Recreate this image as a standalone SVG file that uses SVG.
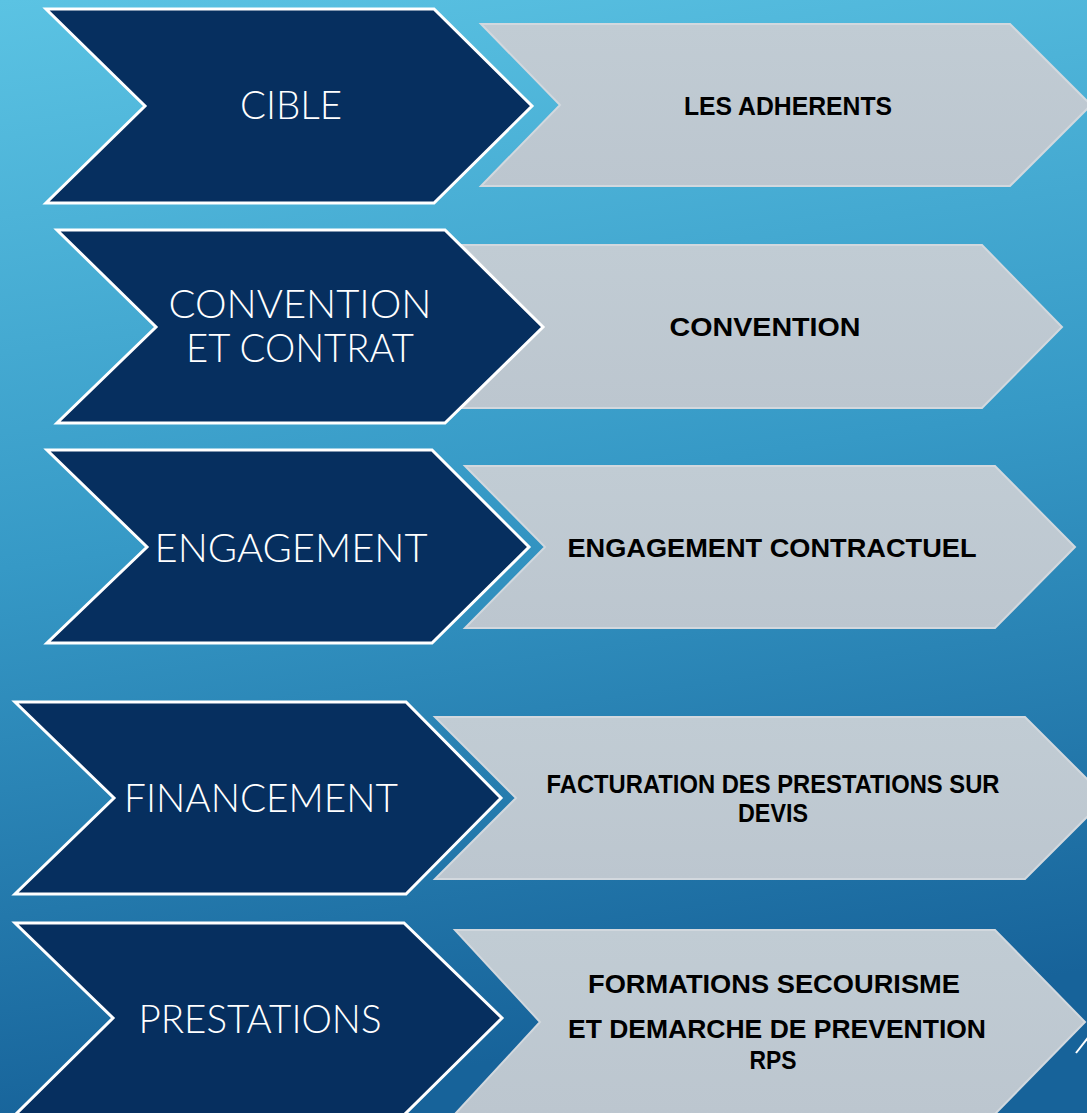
<svg xmlns="http://www.w3.org/2000/svg" width="1087" height="1113" viewBox="0 0 1087 1113">
  <defs>
    <linearGradient id="bg" x1="0" y1="0" x2="0.15" y2="1">
      <stop offset="0" stop-color="#5bc3e3"/>
      <stop offset="0.5" stop-color="#3699c6"/>
      <stop offset="1" stop-color="#17639a"/>
    </linearGradient>
    <linearGradient id="grey" x1="0" y1="0" x2="0" y2="1">
      <stop offset="0" stop-color="#c1ccd4"/>
      <stop offset="1" stop-color="#bcc6cf"/>
    </linearGradient>
  </defs>
  <style>
    .navy { fill: #062f5f; stroke: #ffffff; stroke-width: 3; stroke-linejoin: miter; }
    .light { fill: url(#grey); stroke: #d2d8de; stroke-width: 2; }
    .lbl { font-family: Lato, "Liberation Sans", sans-serif; font-weight: 300; font-size: 40px; fill: #ffffff; text-anchor: middle; }
    .desc { font-family: "Liberation Sans", Arial, sans-serif; font-weight: bold; font-size: 26px; fill: #000000; text-anchor: middle; }
  </style>
  <rect x="0" y="0" width="1087" height="1113" fill="url(#bg)"/>

  <g id="connectors"></g>

  <g id="row1">
    <polygon class="light" points="481,24 1010,24 1091,105 1010,186 481,186 560,105"/>
    <polygon class="navy" points="46,9 434,9 532,106 434,203 46,203 145,106"/>
    <text class="lbl" x="291" y="119" textLength="102" lengthAdjust="spacingAndGlyphs">CIBLE</text>
    <text class="desc" x="788" y="115" textLength="208" lengthAdjust="spacingAndGlyphs">LES ADHERENTS</text>
  </g>

  <g id="row2">
    <polygon class="light" points="462,245 982,245 1062,327 982,408 462,408 542,327"/>
    <polygon class="navy" points="57,230 445,230 543,327 445,423 57,423 156,327"/>
    <text class="lbl" x="300" y="318" textLength="263" lengthAdjust="spacingAndGlyphs">CONVENTION</text>
    <text class="lbl" x="300" y="362" textLength="228" lengthAdjust="spacingAndGlyphs">ET CONTRAT</text>
    <text class="desc" x="765" y="336" textLength="191" lengthAdjust="spacingAndGlyphs">CONVENTION</text>
  </g>

  <g id="row3">
    <polygon class="light" points="465,466 995,466 1075,547 995,628 465,628 545,547"/>
    <polygon class="navy" points="47,450 432,450 529,547 432,643 47,643 147,547"/>
    <text class="lbl" x="291" y="562" textLength="273" lengthAdjust="spacingAndGlyphs">ENGAGEMENT</text>
    <text class="desc" x="772" y="557" textLength="409" lengthAdjust="spacingAndGlyphs">ENGAGEMENT CONTRACTUEL</text>
  </g>

  <g id="row4">
    <polygon class="light" points="435,717 1025,717 1106,798 1025,879 435,879 516,798"/>
    <polygon class="navy" points="15,702 406,702 501,798 406,894 15,894 114,798"/>
    <text class="lbl" x="261" y="812" textLength="274" lengthAdjust="spacingAndGlyphs">FINANCEMENT</text>
    <text class="desc" x="773" y="793" textLength="453" lengthAdjust="spacingAndGlyphs">FACTURATION DES PRESTATIONS SUR</text>
    <text class="desc" x="773" y="822" textLength="70" lengthAdjust="spacingAndGlyphs">DEVIS</text>
  </g>

  <g id="row5">
    <polygon class="light" points="455,930 995,930 1085,1022 995,1114 455,1114 540,1022"/>
    <polygon class="navy" points="15,923 404,923 502,1018 404,1115 15,1115 113,1018"/>
    <text class="lbl" x="260" y="1033" textLength="243" lengthAdjust="spacingAndGlyphs">PRESTATIONS</text>
    <text class="desc" x="774" y="993" textLength="372" lengthAdjust="spacingAndGlyphs">FORMATIONS SECOURISME</text>
    <text class="desc" x="777" y="1038" textLength="418" lengthAdjust="spacingAndGlyphs">ET DEMARCHE DE PREVENTION</text>
    <text class="desc" x="773" y="1069" textLength="47" lengthAdjust="spacingAndGlyphs">RPS</text>
  </g>

  <line x1="1076" y1="1053" x2="1090" y2="1035" stroke="#ffffff" stroke-width="2"/>
</svg>
